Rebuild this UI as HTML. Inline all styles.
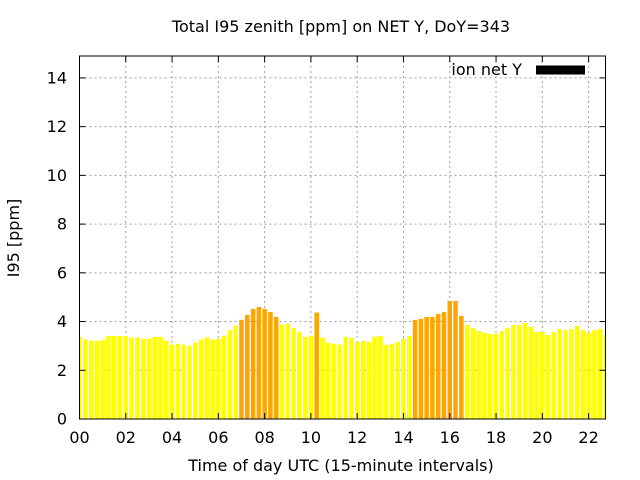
<!DOCTYPE html>
<html><head><meta charset="utf-8"><style>
html,body{margin:0;padding:0;background:#fff;}
svg{display:block;font-family:"DejaVu Sans","Liberation Sans",sans-serif;}
</style></head><body>
<svg id="chart" width="640" height="480" viewBox="0 0 640 480">
<text x="341" y="32" text-anchor="middle" font-size="16">Total I95 zenith [ppm] on NET Y, DoY=343</text>
<text x="341" y="471" text-anchor="middle" font-size="16">Time of day UTC (15-minute intervals)</text>
<text x="19" y="238" text-anchor="middle" font-size="16" transform="rotate(-90 19 238)">I95 [ppm]</text>
<g id="grid"></g>
<g id="bars"></g>
<g id="axes"></g>
<text x="522" y="75" text-anchor="end" font-size="16">ion net Y</text>
<rect x="536" y="65.5" width="49" height="9" fill="#000"/>
</svg>
<script>
const values = [3.37,3.26,3.21,3.21,3.24,3.41,3.41,3.41,3.41,3.34,3.34,3.29,3.29,3.37,3.37,3.21,3.05,3.09,3.05,3.01,3.13,3.26,3.34,3.26,3.29,3.42,3.65,3.83,4.07,4.27,4.52,4.60,4.52,4.39,4.19,3.87,3.91,3.74,3.59,3.37,3.42,4.37,3.34,3.13,3.09,3.06,3.37,3.33,3.16,3.21,3.16,3.37,3.41,3.04,3.08,3.16,3.29,3.41,4.07,4.11,4.19,4.19,4.31,4.39,4.85,4.85,4.23,3.86,3.74,3.61,3.53,3.49,3.49,3.61,3.74,3.86,3.86,3.94,3.78,3.57,3.57,3.45,3.57,3.69,3.65,3.69,3.82,3.65,3.53,3.65,3.69,3.45];
const flagged = [28,29,30,31,32,33,34,41,58,59,60,61,62,63,64,65,66];
const xTicks = ["00","02","04","06","08","10","12","14","16","18","20","22"];
const yTicks = [0,2,4,6,8,10,12,14];
const stepHours = 0.25;
const NS="http://www.w3.org/2000/svg";
const L=79.5,R=605.5,T=56,B=419,XMAX=22.73,YMAX=14.9;
const xs=h=>L+h/XMAX*(R-L);
const ys=v=>B-v/YMAX*(B-T);
function mk(tag,attrs,parent){const e=document.createElementNS(NS,tag);for(const k in attrs)e.setAttribute(k,attrs[k]);parent.appendChild(e);return e;}
const grid=document.getElementById('grid'),bars=document.getElementById('bars'),axes=document.getElementById('axes');
yTicks.forEach(v=>{
  const y=ys(v);
  if(v>0){const g=mk('line',{x1:L,x2:R,y1:y,y2:y,stroke:'#a0a0a0','stroke-dasharray':'2,3'},grid);
  
  }
  const t=mk('text',{x:67,y:y+5.5,'text-anchor':'end','font-size':16},axes);t.textContent=v;
  
  
  mk('line',{x1:L,x2:L+6,y1:y,y2:y,stroke:'#000'},axes);
  mk('line',{x1:R,x2:R-6,y1:y,y2:y,stroke:'#000'},axes);
});
xTicks.forEach(lbl=>{
  const x=xs(parseInt(lbl,10));
  if(parseInt(lbl,10)>0){const g=mk('line',{x1:x,x2:x,y1:T,y2:B,stroke:'#a0a0a0','stroke-dasharray':'2,3'},grid);
  
  }
  const t=mk('text',{x:x,y:443,'text-anchor':'middle','font-size':16},axes);t.textContent=lbl;
  
  
  mk('line',{x1:x,x2:x,y1:B,y2:B-6,stroke:'#000'},axes);
  mk('line',{x1:x,x2:x,y1:T,y2:T+6,stroke:'#000'},axes);
});
const bw=(xs(stepHours)-xs(0))*0.78;
values.forEach((v,i)=>{
  const cx=xs(i*stepHours);
  let x0=Math.max(L,cx-bw/2),x1=Math.min(R,cx+bw/2);
  if(x1<=x0)return;
  const r=mk('rect',{x:x0,y:ys(v),width:x1-x0,height:B-ys(v),fill:flagged.includes(i)?'#ffa500':'#ffff00'},bars);
  
  
});
const f=mk('rect',{x:L,y:T,width:R-L,height:B-T,fill:'none',stroke:'#000','stroke-width':1},axes);


</script>
</body></html>
